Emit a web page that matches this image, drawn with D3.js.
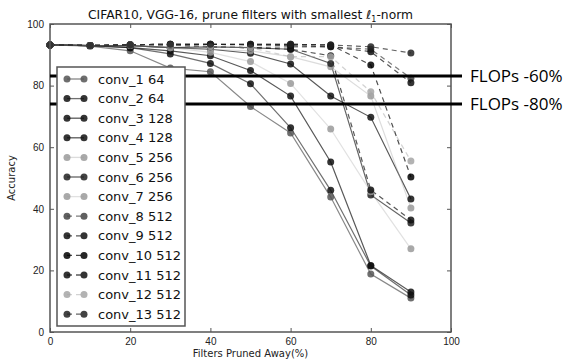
<!DOCTYPE html>
<html>
<head>
<meta charset="utf-8">
<script src="https://cdn.jsdelivr.net/npm/d3@7"></script>
<style>
  body { margin: 0; background: #fff; }
  svg { display: block; font-family: "DejaVu Sans", sans-serif; }
</style>
</head>
<body>
<div id="chart"></div>
<script>
// pruned fraction of filters (%)
const pruned = [0, 10, 20, 30, 40, 50, 60, 70, 80, 90];

const layerNames = ["conv_1 64", "conv_2 64", "conv_3 128", "conv_4 128", "conv_5 256", "conv_6 256",
  "conv_7 256", "conv_8 512", "conv_9 512", "conv_10 512", "conv_11 512", "conv_12 512", "conv_13 512"];

// accuracy after pruning, one array per layer
const conv1 = [93.2, 92.8, 91.3, 85.7, 84.5, 73.2, 64.6, 43.8, 18.8, 11.0];
const conv2 = [93.2, 93.0, 92.3, 90.3, 87.2, 80.6, 66.3, 46.0, 21.4, 12.0];
const conv3 = [93.2, 93.0, 92.3, 91.3, 89.7, 84.9, 76.6, 55.2, 21.6, 13.0];
const conv4 = [93.2, 93.0, 93.0, 92.3, 91.8, 90.5, 87.0, 76.6, 69.7, 43.2];
const conv5 = [93.2, 93.0, 93.0, 92.3, 91.8, 91.3, 89.4, 86.1, 76.6, 40.3];
const conv6 = [93.2, 93.0, 93.0, 92.3, 92.6, 92.3, 91.8, 87.2, 44.5, 35.4];
const conv7 = [93.2, 93.0, 93.0, 92.3, 90.8, 87.8, 80.7, 65.9, 45.5, 27.0];
const conv8 = [93.2, 93.0, 93.3, 93.2, 92.6, 92.3, 92.6, 92.6, 91.8, 82.4];
const conv9 = [93.2, 93.0, 93.3, 93.4, 93.4, 93.2, 93.0, 92.6, 91.0, 80.9];
const conv10 = [93.2, 93.0, 93.3, 93.4, 93.4, 93.4, 93.4, 93.2, 86.7, 50.3];
const conv11 = [93.2, 93.0, 93.3, 93.2, 92.6, 92.3, 91.8, 89.7, 46.1, 36.4];
const conv12 = [93.2, 93.0, 93.3, 93.2, 92.6, 92.3, 89.4, 89.4, 78.0, 55.5];
const conv13 = [93.2, 93.0, 93.3, 93.4, 93.4, 93.4, 93.4, 93.2, 92.6, 90.6];

const accuracy = [conv1, conv2, conv3, conv4, conv5, conv6, conv7, conv8, conv9, conv10, conv11, conv12, conv13];

const xTicks = [0, 20, 40, 60, 80, 100];
const yTicks = [0, 20, 40, 60, 80, 100];

// reference FLOPs levels (accuracy value where the marker line sits)
const flopsLabels = ["FLOPs -60%", "FLOPs -80%"];
const flopsLevels = [83.1, 74.0];

// styling per layer
const colours = ["#555", "#111", "#111", "#111", "#9a9a9a", "#222", "#9a9a9a",
  "#444", "#111", "#000", "#111", "#a6a6a6", "#222"];
const lineOpacity = [0.7, 0.6, 0.7, 0.7, 0.35, 0.7, 0.3, 0.7, 0.7, 0.7, 0.7, 0.5, 0.7];
const dashed = [false, false, false, false, false, false, false, true, true, true, true, true, true];

var margin = { top: 24, right: 115, bottom: 29, left: 50 },
  width = 566 - margin.left - margin.right,
  height = 361 - margin.top - margin.bottom;

var svg = d3.select("#chart").append("svg")
  .attr("width", 566)
  .attr("height", 361);

var g = svg.append("g")
  .attr("transform", `translate(${margin.left},${margin.top})`);

var x = d3.scaleLinear().domain([0, 100]).range([0, width]);
var y = d3.scaleLinear().domain([0, 100]).range([height, 0]);

// axes, matplotlib classic style: ticks pointing inward
g.append("g")
  .attr("transform", `translate(0,${height})`)
  .call(d3.axisBottom(x).tickValues(xTicks).tickSizeInner(-4).tickSizeOuter(0).tickPadding(6))
  .call(a => a.select(".domain").remove());
g.append("g")
  .call(d3.axisLeft(y).tickValues(yTicks).tickSizeInner(-4).tickSizeOuter(0).tickPadding(6))
  .call(a => a.select(".domain").remove());
g.append("g")
  .call(d3.axisTop(x).tickValues(xTicks).tickSizeInner(-4).tickSizeOuter(0).tickFormat(""))
  .call(a => a.select(".domain").remove());
g.append("g")
  .attr("transform", `translate(${width},0)`)
  .call(d3.axisRight(y).tickValues(yTicks).tickSizeInner(-4).tickSizeOuter(0).tickFormat(""))
  .call(a => a.select(".domain").remove());

g.selectAll(".tick text").style("font-size", "10px").style("fill", "#222");
g.selectAll(".tick line").style("stroke", "#555");

// the lines
var valueLine = d3.line()
  .x((d, i) => x(pruned[i]))
  .y(d => y(d));

accuracy.forEach((series, k) => {
  g.append("path")
    .datum(series)
    .attr("fill", "none")
    .attr("stroke", colours[k])
    .attr("stroke-opacity", lineOpacity[k])
    .attr("stroke-width", 1.2)
    .attr("stroke-dasharray", dashed[k] ? "5,4" : null)
    .attr("d", valueLine);
});
accuracy.forEach((series, k) => {
  g.selectAll(null)
    .data(series)
    .enter().append("circle")
    .attr("cx", (d, i) => x(pruned[i]))
    .attr("cy", d => y(d))
    .attr("r", 3.5)
    .style("fill", colours[k])
    .style("fill-opacity", 0.85);
});

// frame
g.append("rect")
  .attr("width", width)
  .attr("height", height)
  .attr("fill", "none")
  .attr("stroke", "#555")
  .attr("stroke-width", 1.5);

// FLOPs reference lines reaching past the right edge
flopsLevels.forEach((level, i) => {
  g.append("line")
    .attr("x1", x(0))
    .attr("x2", width + 11)
    .attr("y1", y(level))
    .attr("y2", y(level))
    .attr("stroke", "#000")
    .attr("stroke-width", 3);
  g.append("text")
    .attr("x", width + 19)
    .attr("y", y(level))
    .attr("dy", "0.35em")
    .style("font-family", "'Open Sans', sans-serif")
    .style("font-size", "17px")
    .style("fill", "#000")
    .text(flopsLabels[i]);
});

// legend
var lg = g.append("g").attr("transform", "translate(7,43)");
lg.append("rect")
  .attr("width", 128)
  .attr("height", 259)
  .attr("fill", "#fff")
  .attr("stroke", "#555")
  .attr("stroke-width", 1.5);
layerNames.forEach((name, k) => {
  var row = lg.append("g").attr("transform", `translate(0,${12 + k * 19.6})`);
  row.append("line")
    .attr("x1", 10).attr("x2", 27)
    .attr("stroke", colours[k])
    .attr("stroke-opacity", lineOpacity[k])
    .attr("stroke-width", 1.3)
    .attr("stroke-dasharray", dashed[k] ? "5,4" : null);
  [10, 27].forEach(cx => {
    row.append("circle").attr("cx", cx).attr("r", 3.5)
      .style("fill", colours[k]).style("fill-opacity", 0.85);
  });
  row.append("text")
    .attr("x", 41)
    .attr("dy", "0.35em")
    .style("font-size", "13px")
    .style("fill", "#111")
    .text(name);
});

// title and axis labels
var title = svg.append("text")
  .attr("x", margin.left + width / 2)
  .attr("y", 19)
  .attr("text-anchor", "middle")
  .style("font-size", "12.3px")
  .style("fill", "#111");
title.append("tspan").text("CIFAR10, VGG-16, prune filters with smallest ");
title.append("tspan").style("font-style", "italic").text("ℓ");
title.append("tspan").attr("dy", 3).style("font-size", "8px").text("1");
title.append("tspan").attr("dy", -3).text("-norm");

svg.append("text")
  .attr("x", margin.left + width / 2)
  .attr("y", 357)
  .attr("text-anchor", "middle")
  .style("font-size", "10px")
  .style("fill", "#222")
  .text("Filters Pruned Away(%)");

svg.append("text")
  .attr("transform", `translate(15,${margin.top + height / 2}) rotate(-90)`)
  .attr("text-anchor", "middle")
  .style("font-size", "10px")
  .style("fill", "#222")
  .text("Accuracy");
</script>
</body>
</html>
